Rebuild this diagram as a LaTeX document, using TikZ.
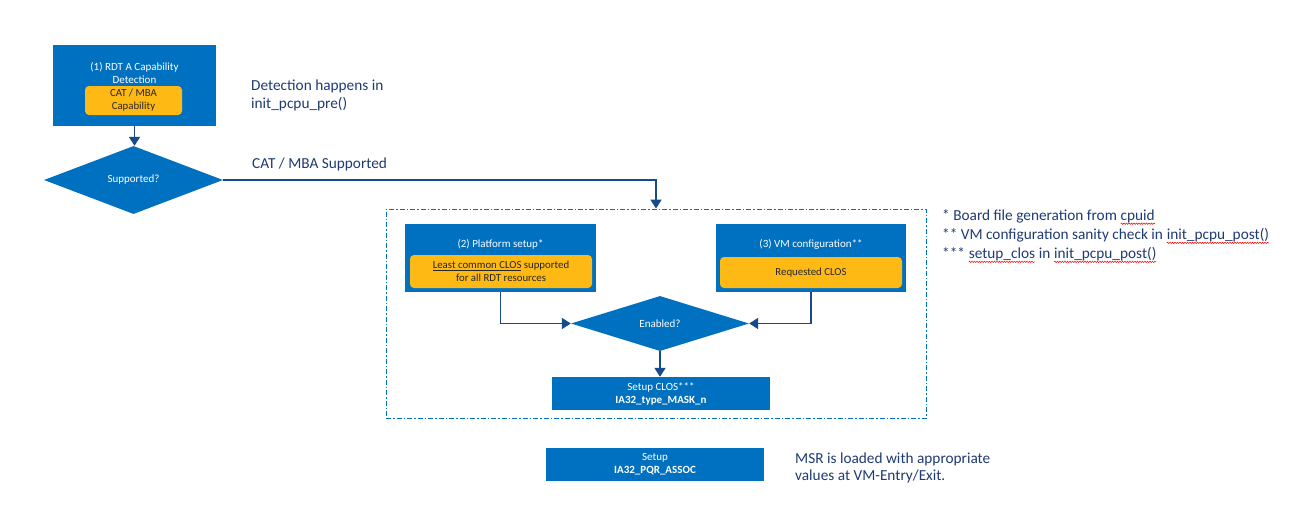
\documentclass[tikz,border=0pt]{standalone}
\usepackage{fontspec}
\setmainfont{Carlito}
\usetikzlibrary{shapes.geometric,arrows.meta,decorations.pathmorphing}
\definecolor{boxblue}{HTML}{0070C0}
\definecolor{gold}{HTML}{FFB914}
\definecolor{arrowblue}{HTML}{174A8B}
\definecolor{txtblue}{HTML}{1F3B72}
\newcommand\squig[1]{\tikz[baseline=(w.base)]{\node[inner sep=0pt,outer sep=0pt,text=txtblue] (w) {#1}; \draw[red,line width=0.5pt,decorate,decoration={snake,amplitude=0.7pt,segment length=2.5pt}] ([yshift=-1pt]w.south west) -- ([yshift=-1pt]w.south east);}}
\begin{document}
\begin{tikzpicture}[x=1pt,y=-1pt,
  bluebox/.style={fill=boxblue,draw=none,inner sep=0pt,anchor=center},
  goldbox/.style={fill=gold,draw=none,rounded corners=4pt,inner sep=0pt,anchor=center,text=black!85,font=\fontsize{10.8}{13}\selectfont,align=center},
  wlabel/.style={text=white,inner sep=0pt,align=center,font=\fontsize{11}{13}\selectfont},
  decision/.style={diamond,fill=boxblue,draw=none,inner sep=0pt,aspect=3,text=white,font=\fontsize{11}{13}\selectfont},
  conn/.style={draw=arrowblue,line width=1.8pt,-{Triangle[width=11pt,length=9pt]}},
  note/.style={text=txtblue,inner sep=0pt,anchor=west,align=left,font=\fontsize{15.3}{17.5}\selectfont},
  smallnote/.style={text=txtblue,inner sep=0pt,anchor=west,align=left,font=\fontsize{15.3}{19}\selectfont},
  frame/.style={draw=boxblue,line width=0.9pt,dash pattern=on 5pt off 2pt on 1.5pt off 2pt,inner sep=0pt}]
\useasboundingbox[fill=white] (0,0) rectangle (1312,522);

% box 1
\node[bluebox,minimum width=163pt,minimum height=81pt] (b1) at (134.5,85.5) {};
\node[wlabel] (b1t) at (134.5,73.5) {(1) RDT A Capability\\Detection};
\node[goldbox,minimum width=97pt,minimum height=29pt] (g1) at (133.5,100.5) {CAT / MBA\\Capability};

% decision 1
\node[decision,minimum width=179pt,minimum height=68pt] (d1) at (133.5,180) {Supported?};

% frame
\node[frame,minimum width=540pt,minimum height=209pt] (fr) at (656,313.5) {};

% box 2
\node[bluebox,minimum width=191pt,minimum height=68pt] (b2) at (500.5,258) {};
\node[wlabel] (b2t) at (500.5,244) {(2) Platform setup*};
\node[goldbox,minimum width=182pt,minimum height=33pt] (g2) at (501,271.5) {\underline{Least common CLOS} supported\\for all RDT resources};

% box 3
\node[bluebox,minimum width=190pt,minimum height=68pt] (b3) at (811,258) {};
\node[wlabel] (b3t) at (811,244) {(3) VM configuration**};
\node[goldbox,minimum width=182pt,minimum height=31pt] (g3) at (811,272.5) {Requested CLOS};

% decision 2
\node[decision,minimum width=178pt,minimum height=55pt] (d2) at (660,323.5) {Enabled?};

% box 4
\node[bluebox,minimum width=218pt,minimum height=33pt] (b4) at (661,393.5) {};
\node[wlabel] (b4t) at (661,393.5) {Setup CLOS***\\\textbf{IA32\_type\_MASK\_n}};

% box 5
\node[bluebox,minimum width=218pt,minimum height=33pt] (b5) at (655,464.5) {};
\node[wlabel] (b5t) at (655,464.5) {Setup\\\textbf{IA32\_PQR\_ASSOC}};

% connectors
\draw[conn] (b1.south) -- (b1.south |- d1.north);
\draw[conn] (d1.east) -| (fr.north);
\draw[conn] (b2.south) |- (d2.west);
\draw[conn] (b3.south) |- (d2.east);
\draw[conn] (d2.south) -- (b4.north -| d2.south);

% texts
\node[note] (t1) at (251,95.5) {Detection happens in\\init\_pcpu\_pre()};
\node[note] (t2) at (252,164) {CAT / MBA Supported};
\node[smallnote] (t3a) at (942,217) {* Board file generation from \squig{cpuid}};
\node[smallnote] (t3b) at (942,236) {** VM configuration sanity check in \squig{init\_pcpu\_post()}};
\node[smallnote] (t3c) at (942,255) {*** \squig{setup\_clos} in \squig{init\_pcpu\_post()}};
\node[note] (t4) at (795,468) {MSR is loaded with appropriate\\values at VM-Entry/Exit.};
\end{tikzpicture}
\end{document}
